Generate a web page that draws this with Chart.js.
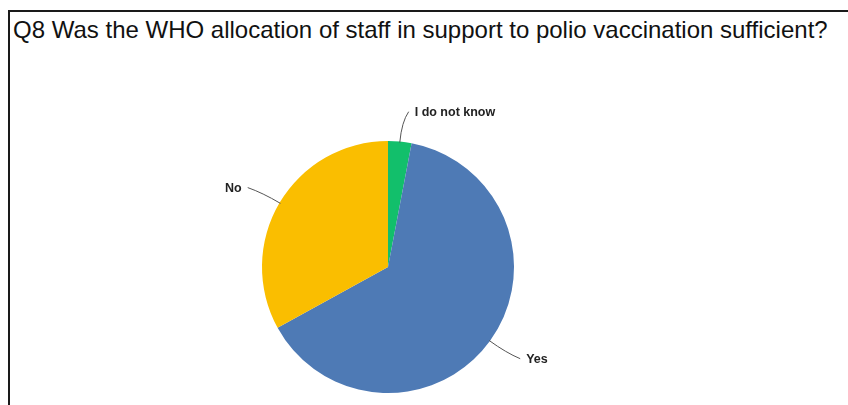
<!DOCTYPE html>
<html>
<head>
<meta charset="utf-8">
<script src="https://cdn.jsdelivr.net/npm/chart.js@4/dist/chart.umd.min.js"></script>
<style>
  html, body { margin: 0; padding: 0; background: #fff; }
  body { width: 848px; height: 405px; position: relative; overflow: hidden; }
  #frame {
    position: absolute; left: 8px; top: 10px; right: -10px; bottom: -10px;
    border-left: 2px solid #1a1a1a; border-top: 2px solid #1a1a1a;
  }
  #title {
    position: absolute; left: 13px; top: 18px;
    font-family: "Liberation Sans", Arial, sans-serif; font-size: 24px; line-height: 24px;
    color: #111; white-space: nowrap;
  }
  #wrap { position: absolute; left: 0; top: 0; width: 848px; height: 405px; }
</style>
</head>
<body>
<div id="frame"></div>
<div id="title">Q8 Was the WHO allocation of staff in support to polio vaccination sufficient?</div>
<div id="wrap"><canvas id="pieChart"></canvas></div>
<script>
const answers = ["I do not know", "Yes", "No"];
const shares = [3, 64, 33];
const sliceColors = ["#12BF6B", "#4E7AB5", "#FABE00"];

// leader lines + outside labels
const outsideLabels = {
  id: "outsideLabels",
  afterDatasetsDraw(chart) {
    const ctx = chart.ctx;
    const meta = chart.getDatasetMeta(0);
    ctx.save();
    meta.data.forEach((arc, i) => {
      const mid = (arc.startAngle + arc.endAngle) / 2;
      const r = arc.outerRadius;
      const dx = Math.cos(mid), dy = Math.sin(mid);
      const side = dx >= 0 ? 1 : -1;
      const x0 = arc.x + dx * (r - 1), y0 = arc.y + dy * (r - 1);
      const x1 = arc.x + dx * (r + 20), y1 = arc.y + dy * (r + 20);
      const x2 = arc.x + dx * (r + 30) + side * 6, y2 = arc.y + dy * (r + 30);
      ctx.strokeStyle = "#555";
      ctx.lineWidth = 1;
      ctx.beginPath();
      ctx.moveTo(x0, y0);
      ctx.quadraticCurveTo(x1, y1, x2, y2);
      ctx.stroke();
      ctx.fillStyle = "#222";
      ctx.font = "bold 12.5px 'Liberation Sans', Arial, sans-serif";
      ctx.textBaseline = "middle";
      ctx.textAlign = side > 0 ? "left" : "right";
      ctx.fillText(chart.data.labels[i], x2 + side * 6, y2 + 1);
    });
    ctx.restore();
  }
};

new Chart(document.getElementById("pieChart"), {
  type: "pie",
  data: {
    labels: answers,
    datasets: [{
      data: shares,
      backgroundColor: sliceColors,
      borderWidth: 0
    }]
  },
  options: {
    responsive: true,
    maintainAspectRatio: false,
    animation: false,
    layout: { padding: { top: 141, bottom: 12, left: 0, right: 72 } },
    plugins: {
      legend: { display: false },
      tooltip: { enabled: false }
    }
  },
  plugins: [outsideLabels]
});
</script>
</body>
</html>
